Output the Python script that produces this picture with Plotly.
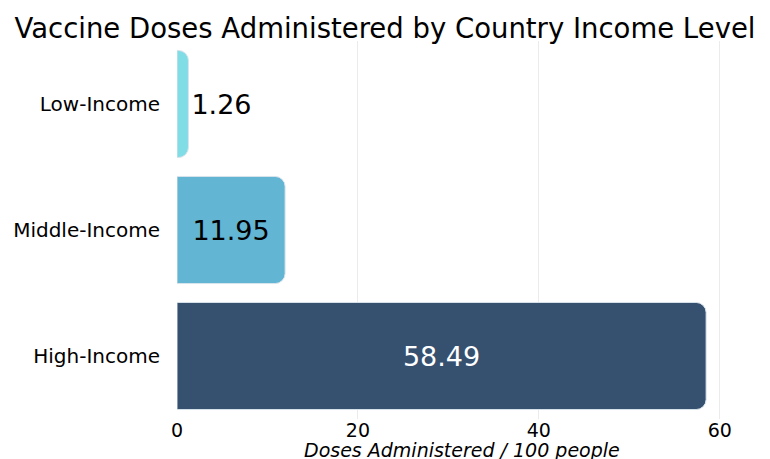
import plotly.graph_objects as go

categories = ["Low-Income", "Middle-Income", "High-Income"]
doses = [1.26, 11.95, 58.49]
bar_colors = ["#80DCE5", "#62B5D3", "#36506F"]
text_colors = ["black", "black", "white"]
x_ticks = [0, 20, 40, 60]
x_title = "Doses Administered / 100 people"

FONT = "DejaVu Sans"

fig = go.Figure(go.Bar(
    x=doses,
    y=categories,
    orientation="h",
    marker=dict(color=bar_colors, line=dict(color="#D9E4EC", width=1)),
    text=[f"{v:.2f}" for v in doses],
    textposition="auto",
    insidetextanchor="middle",
    textfont=dict(size=27, color=text_colors, family=FONT),
    outsidetextfont=dict(size=27, color="black", family=FONT),
    width=0.85,
    cliponaxis=False,
))

fig.update_layout(
    width=770, height=459,
    margin=dict(l=177, r=5, t=41, b=40),
    plot_bgcolor="white", paper_bgcolor="white",
    barcornerradius=10,
    font=dict(family=FONT, color="black"),
    title=dict(text="Vaccine Doses Administered by Country Income Level",
               font=dict(size=27.5, color="black", family=FONT),
               x=0.5, xanchor="center", y=0.96, yanchor="top"),
    showlegend=False,
    uniformtext=dict(minsize=8, mode="show"),
    annotations=[dict(
        text=f"<i>{x_title}</i>", xref="paper", yref="paper",
        x=0.485, y=-0.082, xanchor="center", yanchor="middle",
        showarrow=False, font=dict(size=19, color="black", family=FONT),
    )],
)
fig.update_xaxes(
    range=[0, 65], tickvals=x_ticks, showgrid=True, gridcolor="#EBEBEB",
    zeroline=False, tickfont=dict(size=19, color="black"),
    ticks="", automargin=False, ticklabelstandoff=-2,
)
fig.update_yaxes(
    autorange="reversed", showgrid=False, tickfont=dict(size=20, color="black"),
    ticks="outside", ticklen=12, tickcolor="white", automargin=False,
)

fig.write_html("out.html")
